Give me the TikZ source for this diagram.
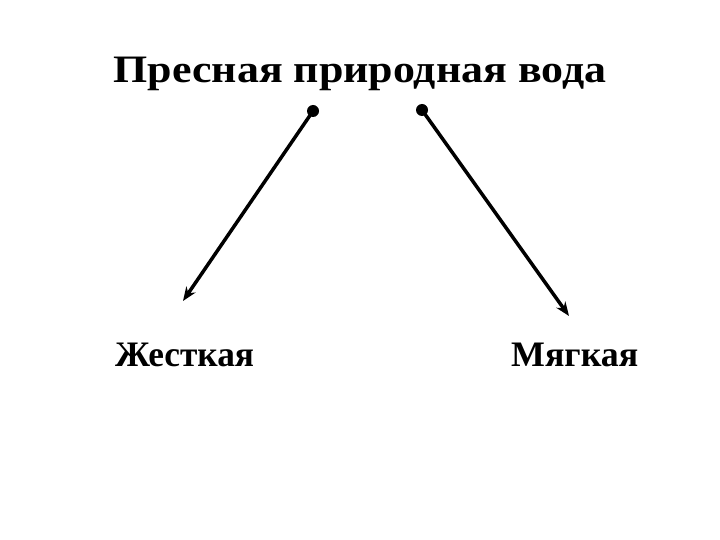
\documentclass[tikz,border=0pt]{standalone}
\usepackage{fontspec}
\setmainfont{Liberation Serif}
\usetikzlibrary{arrows.meta}
\begin{document}
\begin{tikzpicture}[x=1bp,y=-1bp,
  ttl/.style={inner sep=0pt,anchor=base,font=\fontsize{39}{40}\selectfont\bfseries},
  lbl/.style={inner sep=0pt,anchor=base west,font=\fontsize{36}{38}\selectfont\bfseries},
  arr/.style={line width=3.5bp,-{Stealth[length=14bp,width=11bp]}},
  dot/.style={fill=black}]
\useasboundingbox (0,0) rectangle (720,540);
\node[ttl] (title) at (360,83) {\scalebox{1.13}[1]{Пресная природная вода}};
\node[lbl] (hard) at (115,366) {\scalebox{0.985}[1]{Жесткая}};
\node[lbl] (soft) at (511,366) {Мягкая};
\coordinate (d1) at (313,111);
\coordinate (d2) at (422,110);
\coordinate (e1) at (183,301);
\coordinate (e2) at (569,316);
\fill[dot] (d1) circle (6);
\fill[dot] (d2) circle (6);
\draw[arr] (d1) -- (e1);
\draw[arr] (d2) -- (e2);
\end{tikzpicture}
\end{document}
